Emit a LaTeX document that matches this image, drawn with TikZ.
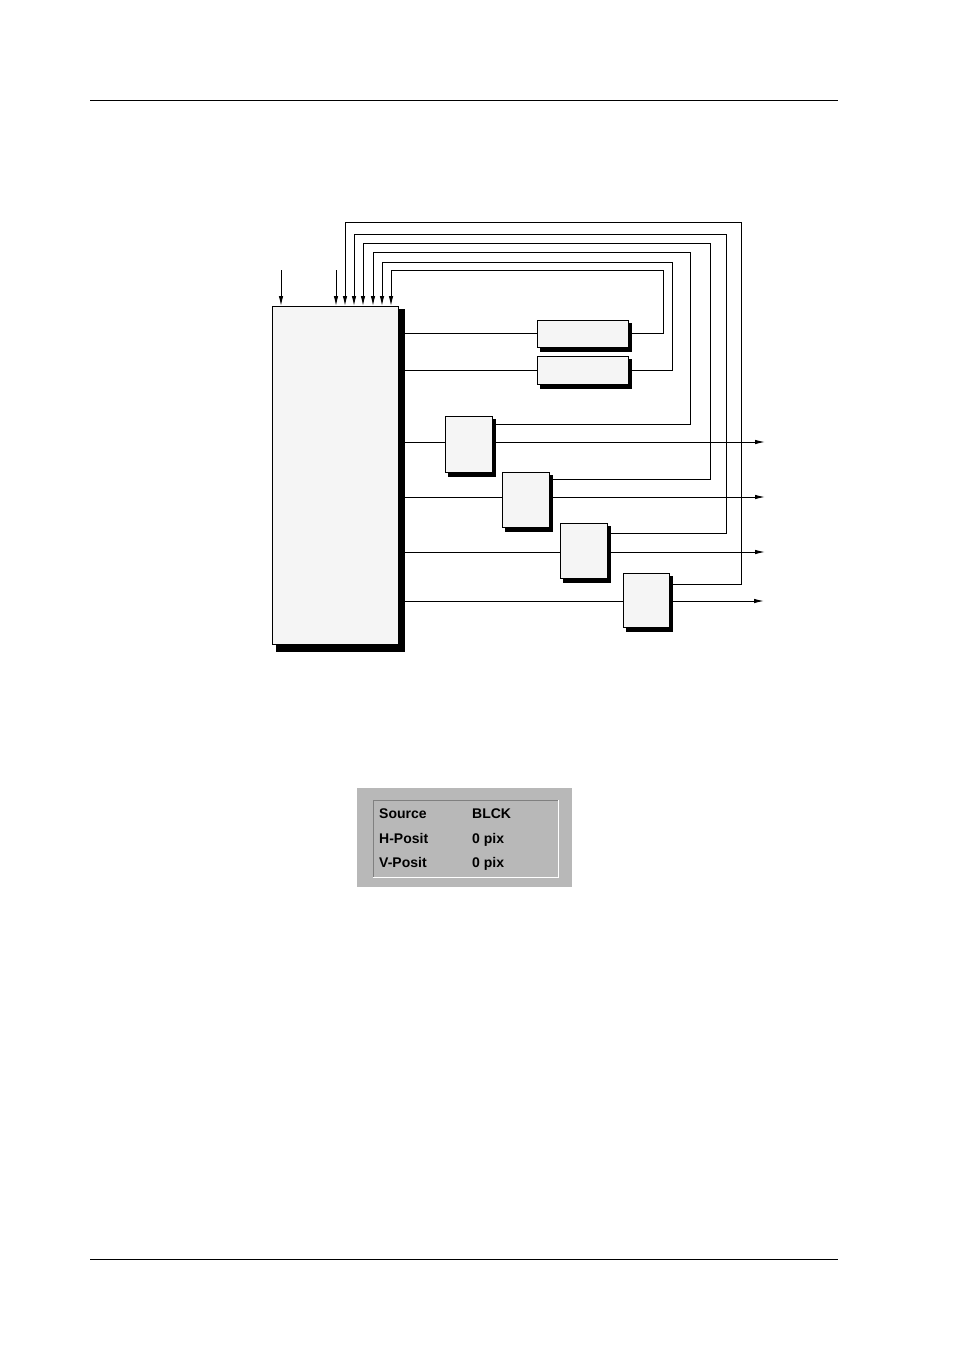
\documentclass[tikz,border=0pt]{standalone}
\usepackage{fontspec}
\setmainfont{Liberation Sans}
\usetikzlibrary{arrows.meta}
\pgfdeclarelayer{lines}
\pgfdeclarelayer{shadow}
\pgfsetlayers{lines,shadow,main}
\begin{document}
\begin{tikzpicture}[x=1pt,y=-1pt,
  blk/.style={draw=black,line width=1pt,fill=boxfill,inner sep=0pt,outer sep=0pt},
  wire/.style={line width=1pt},
  arr/.style={line width=1pt,-{Latex[length=10pt,width=4.5pt]}},
  lbl/.style={anchor=base west,inner sep=0pt,font=\bfseries\fontsize{14}{16}\selectfont}]
\definecolor{boxfill}{HTML}{F5F5F5}
\definecolor{panel}{HTML}{B8B8B8}
\definecolor{frame}{HTML}{808080}
\useasboundingbox (0,0) rectangle (954,1350);
% page rules
\draw[line width=1pt] (90,100) -- (838,100);
\draw[line width=1pt] (90,1259) -- (838,1259);
% blocks
\node[blk,minimum width=126pt,minimum height=338pt] (main) at (335,475) {};
\node[blk,minimum width=91pt,minimum height=27pt] (dA) at (582.5,333.5) {};
\node[blk,minimum width=91pt,minimum height=28pt] (dB) at (582.5,370) {};
\node[blk,minimum width=47pt,minimum height=56pt] (dC) at (468.5,444) {};
\node[blk,minimum width=47pt,minimum height=55pt] (dD) at (525.5,499.5) {};
\node[blk,minimum width=47pt,minimum height=55pt] (dE) at (583.5,550.5) {};
\node[blk,minimum width=46pt,minimum height=54pt] (dF) at (646,600) {};
% shadows
\begin{pgfonlayer}{shadow}
\fill ([shift={(4,3)}]main.north west) rectangle ([shift={(7,8)}]main.south east);
\foreach \b in {dA,dB,dC,dD,dE,dF}{
  \fill ([shift={(3,3)}]\b.north west) rectangle ([shift={(4,5)}]\b.south east);
}
\end{pgfonlayer}
% coordinates
\coordinate (in1) at (281,270);
\coordinate (in2) at (336,270);
\coordinate (o1) at (765,442);
\coordinate (o2) at (765,497);
\coordinate (o3) at (765,552);
\coordinate (o4) at (764,601);
\begin{pgfonlayer}{lines}
% inputs
\draw[arr] (in1) -- (in1 |- main.north);
\draw[arr] (in2) -- (in2 |- main.north);
% main outputs
\draw[wire] (main.east |- 0,333) -- (dA.west |- 0,333);
\draw[wire] (main.east |- 0,370) -- (dB.west |- 0,370);
\draw[wire] (main.east |- 0,442) -- (dC.west |- 0,442);
\draw[wire] (main.east |- 0,497) -- (dD.west |- 0,497);
\draw[wire] (main.east |- 0,552) -- (dE.west |- 0,552);
\draw[wire] (main.east |- 0,601) -- (dF.west |- 0,601);
% outputs to the right
\draw[arr] (dC.east |- 0,442) -- (o1);
\draw[arr] (dD.east |- 0,497) -- (o2);
\draw[arr] (dE.east |- 0,552) -- (o3);
\draw[arr] (dF.east |- 0,601) -- (o4);
% feedback loops
\draw[arr] (dA.east |- 0,333) -- (663,333) -- (663,270) -- (391,270) -- (391,0 |- main.north);
\draw[arr] (dB.east |- 0,370) -- (672,370) -- (672,262) -- (382,262) -- (382,0 |- main.north);
\draw[arr] (dC.east |- 0,424) -- (690,424) -- (690,252) -- (373,252) -- (373,0 |- main.north);
\draw[arr] (dD.east |- 0,479) -- (710,479) -- (710,243) -- (363,243) -- (363,0 |- main.north);
\draw[arr] (dE.east |- 0,533) -- (726,533) -- (726,234) -- (354,234) -- (354,0 |- main.north);
\draw[arr] (dF.east |- 0,584) -- (741,584) -- (741,222) -- (345,222) -- (345,0 |- main.north);
\end{pgfonlayer}
% panel
\node[fill=panel,minimum width=215pt,minimum height=99pt,inner sep=0pt] (panel) at (464.5,837.5) {};
\draw[frame,line width=1pt] (373,877) -- (373,800) -- (558,800);
\draw[white,line width=1pt] (558,800) -- (558,877) -- (373,877);
\node[lbl] (s1) at (379,818) {Source};
\node[lbl] (s2) at (379,843) {H-Posit};
\node[lbl] (s3) at (379,867) {V-Posit};
\node[lbl] (v1) at (472,818) {BLCK};
\node[lbl] (v2) at (472,843) {0 pix};
\node[lbl] (v3) at (472,867) {0 pix};
\end{tikzpicture}
\end{document}
